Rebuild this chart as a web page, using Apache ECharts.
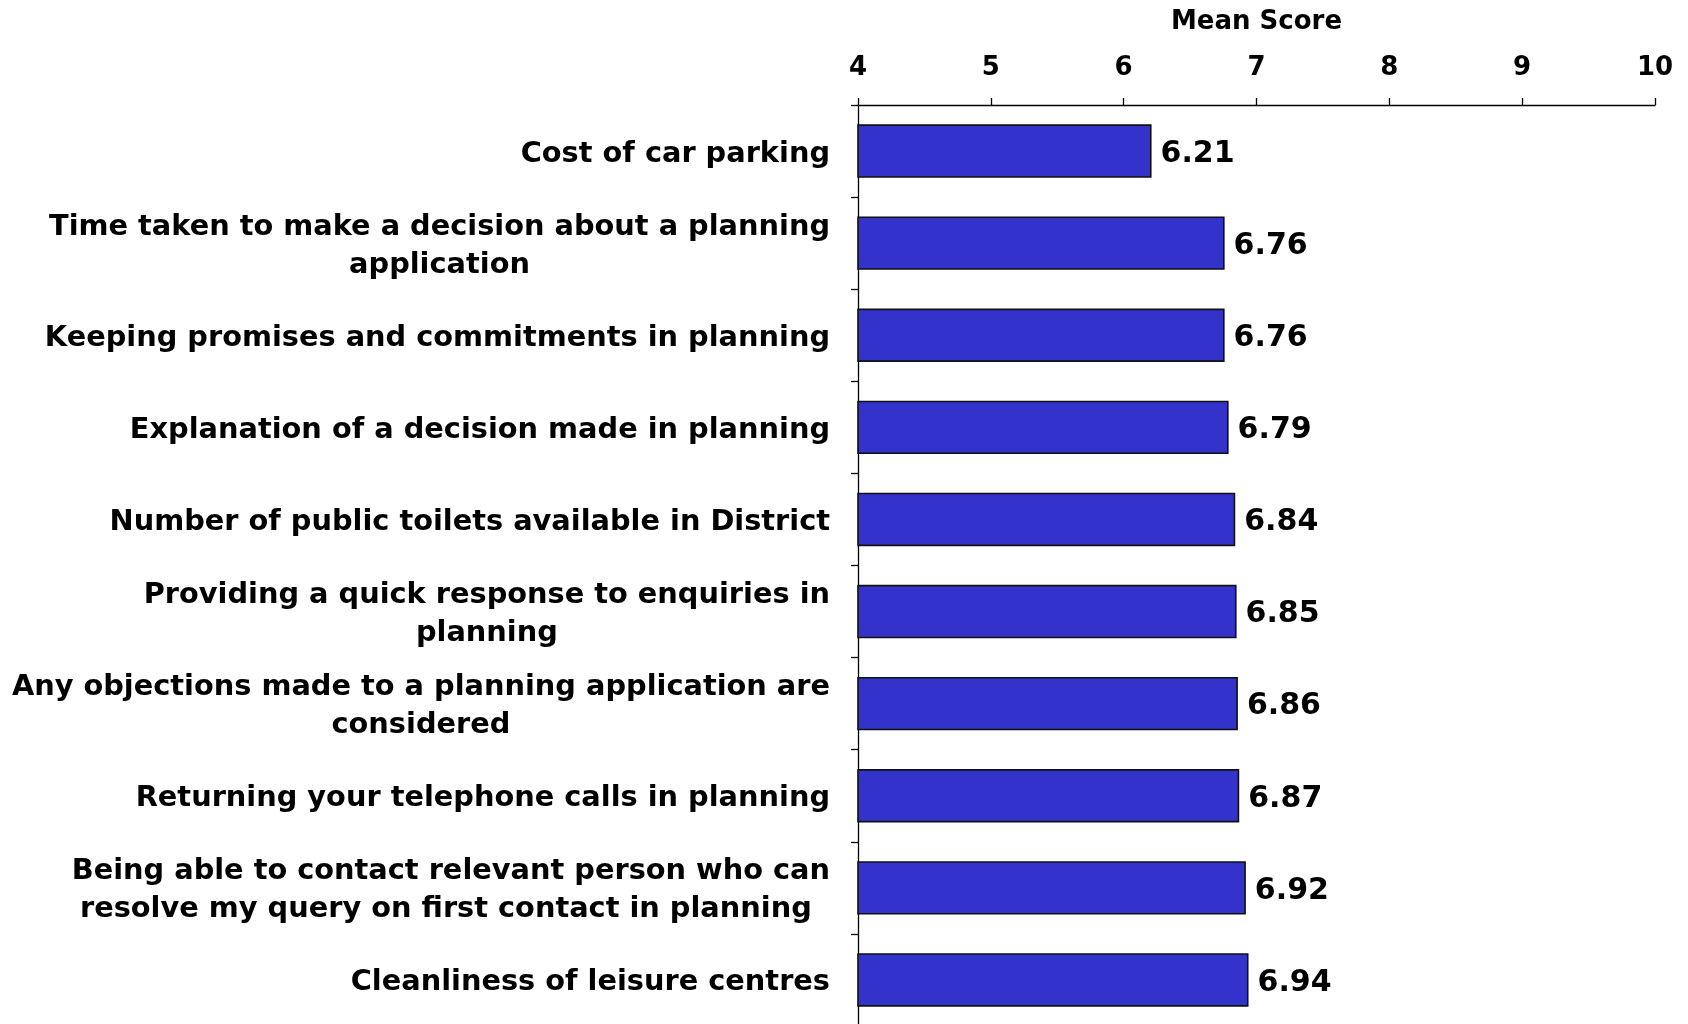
<!DOCTYPE html>
<html>
<head>
<meta charset="utf-8">
<script src="https://cdn.jsdelivr.net/npm/echarts@6/dist/echarts.min.js"></script>
<style>
  html, body { margin: 0; padding: 0; background: #ffffff; }
  #chart { width: 1688px; height: 1024px; }
</style>
</head>
<body>
<div id="chart"></div>
<script>
// Service aspects, listed top to bottom
const categories = [
  'Cost of car parking',
  'Time taken to make a decision about a planning\napplication',
  'Keeping promises and commitments in planning',
  'Explanation of a decision made in planning',
  'Number of public toilets available in District',
  'Providing a quick response to enquiries in\nplanning',
  'Any objections made to a planning application are\nconsidered',
  'Returning your telephone calls in planning',
  'Being able to contact relevant person who can\nresolve my query on first contact in planning ',
  'Cleanliness of leisure centres'
];

// Mean score for each aspect
const meanScores = [6.21, 6.76, 6.76, 6.79, 6.84, 6.85, 6.86, 6.87, 6.92, 6.94];

// Value axis range
const axisMin = 4;
const axisMax = 10;
const axisStep = 1;

const FONT = '"DejaVu Sans", Verdana, sans-serif';

const chart = echarts.init(document.getElementById('chart'), null, { renderer: 'canvas' });

chart.setOption({
  backgroundColor: '#ffffff',
  animation: false,
  grid: {
    left: 858,
    right: 33,
    top: 105,
    height: 921,
    containLabel: false,
    outerBoundsMode: 'none'
  },
  xAxis: {
    type: 'value',
    position: 'top',
    min: axisMin,
    max: axisMax,
    interval: axisStep,
    name: 'Mean Score',
    nameLocation: 'middle',
    nameGap: 70,
    nameMoveOverlap: false,
    nameTextStyle: {
      fontFamily: FONT,
      fontWeight: 'bold',
      fontSize: 26,
      color: '#000000'
    },
    axisLine: { show: true, lineStyle: { color: '#000000', width: 1.3 } },
    axisTick: { show: true, inside: false, length: 7, lineStyle: { color: '#000000', width: 1.3 } },
    axisLabel: {
      margin: 24,
      fontFamily: FONT,
      fontWeight: 'bold',
      fontSize: 26,
      color: '#000000'
    },
    splitLine: { show: false }
  },
  yAxis: {
    type: 'category',
    inverse: true,
    data: categories,
    axisLine: { show: true, lineStyle: { color: '#000000', width: 1.3 } },
    axisTick: { show: true, length: 7, alignWithLabel: false, lineStyle: { color: '#000000', width: 1.3 } },
    axisLabel: {
      margin: 28,
      align: 'right',
      padding: [6, 0, 0, 0],
      formatter: function (v) {
        return v.split('\n').map(function (line) { return '{c|' + line + '}'; }).join('\n');
      },
      rich: {
        c: {
          align: 'center',
          fontFamily: FONT,
          fontWeight: 'bold',
          fontSize: 28.8,
          lineHeight: 38,
          color: '#000000'
        }
      }
    },
    splitLine: { show: false }
  },
  series: [{
    type: 'bar',
    data: meanScores,
    barWidth: '58%',
    itemStyle: {
      color: '#3333CC',
      borderColor: '#111111',
      borderWidth: 1.6
    },
    label: {
      show: true,
      position: 'right',
      distance: 9,
      offset: [0, 3],
      formatter: function (p) { return p.value.toFixed(2); },
      fontFamily: FONT,
      fontWeight: 'bold',
      fontSize: 30,
      color: '#000000'
    }
  }]
});
</script>
</body>
</html>
